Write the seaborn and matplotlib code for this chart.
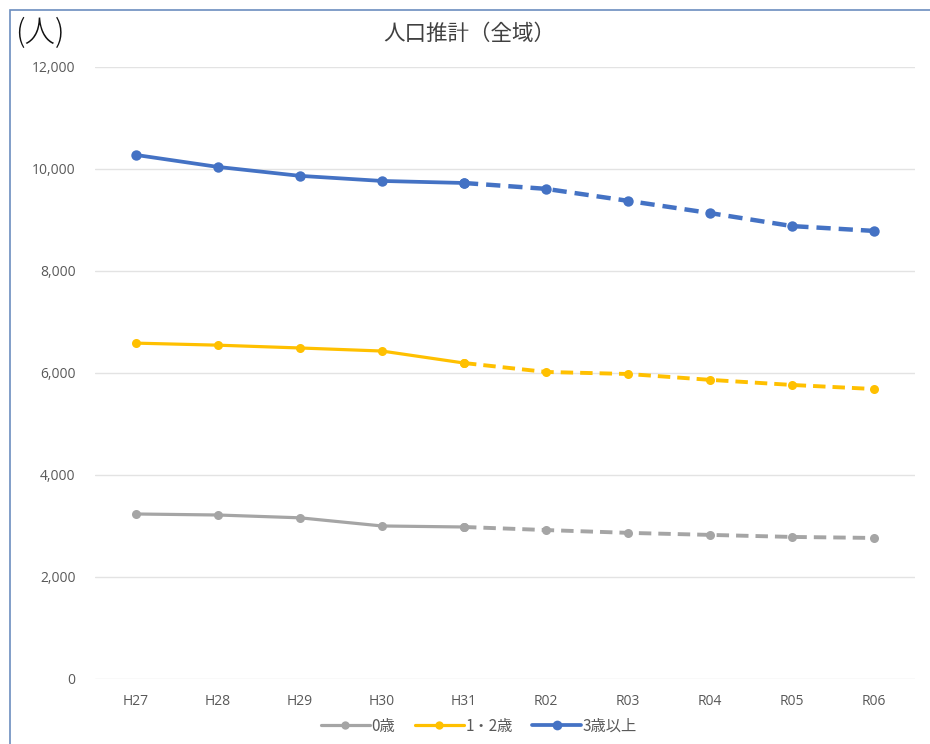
# 人口推計（全域）の折れ線グラフ
import numpy as np
import pandas as pd
import seaborn as sns
import matplotlib.pyplot as plt
from matplotlib.lines import Line2D
from matplotlib.patches import Rectangle

# Data
years = ['H27', 'H28', 'H29', 'H30', 'H31', 'R02', 'R03', 'R04', 'R05', 'R06']
age0 = [3235, 3215, 3160, 3000, 2980, 2920, 2865, 2825, 2785, 2765]
age12 = [6585, 6545, 6490, 6430, 6195, 6020, 5980, 5865, 5765, 5685]
age3plus = [10275, 10040, 9865, 9765, 9725, 9610, 9375, 9135, 8880, 8785]
series_names = ['0歳', '1・2歳', '3歳以上']
last_actual = 'H31'

sns.set_theme(style='white')
plt.rcParams['font.family'] = ['Noto Sans CJK JP', 'DejaVu Sans']

# Long-form table
pos = np.arange(len(years))
split = years.index(last_actual)
rows = []
for name, vals in zip(series_names, [age0, age12, age3plus]):
    for i, (y, v) in enumerate(zip(years, vals)):
        rows.append({'pos': pos[i], 'year': y, 'series': name, 'value': v})
data = pd.DataFrame(rows)

colors = {'0歳': '#A5A5A5', '1・2歳': '#FFC000', '3歳以上': '#4472C4'}
widths = {'0歳': 2.3, '1・2歳': 2.3, '3歳以上': 2.7}
msizes = {'0歳': 6.5, '1・2歳': 6.5, '3歳以上': 7.5}

fig = plt.figure(figsize=(9.3, 7.44), dpi=100)
ax = fig.add_axes([0.102, 0.0874, 0.882, 0.8226])

for name in series_names:
    d = data[data['series'] == name]
    solid = d[d['pos'] <= split]
    dashed = d[d['pos'] >= split]
    sns.lineplot(data=solid, x='pos', y='value', ax=ax, color=colors[name],
                 linewidth=widths[name], marker='o', markersize=msizes[name],
                 markeredgewidth=0, zorder=3)
    sns.lineplot(data=dashed, x='pos', y='value', ax=ax, color=colors[name],
                 linewidth=widths[name] + 0.5, linestyle=(0, (3.2, 1.8)), marker='o',
                 markersize=msizes[name], markeredgewidth=0, zorder=3)

ax.set_xlim(-0.5, len(years) - 0.5)
ax.set_ylim(0, 12000)
ax.set_xticks(pos)
ax.set_xticklabels(years)
ax.set_yticks(range(0, 12001, 2000))
ax.set_yticklabels([f'{v:,}' for v in range(0, 12001, 2000)])
ax.tick_params(axis='x', colors='#595959', labelsize=10, length=0, pad=11)
ax.tick_params(axis='y', colors='#595959', labelsize=10, length=0, pad=14)
for lab in ax.get_xticklabels() + ax.get_yticklabels():
    lab.set_family(['Open Sans', 'DejaVu Sans'])
ax.yaxis.grid(True, color='#E3E3E3', linewidth=1)
ax.xaxis.grid(False)
ax.set_xlabel('')
ax.set_ylabel('')
for s in ax.spines.values():
    s.set_visible(False)

# Title and unit label
fig.text(0.505, 0.955, '人口推計（全域）', ha='center', va='center',
         fontsize=15.5, color='#404040')
fig.text(0.043, 0.955, '(人)', ha='center', va='center', fontsize=22,
         color='#111111', fontweight='light')

# Legend
handles = [Line2D([0], [0], color=colors[n], linewidth=widths[n], marker='o',
                  markersize=msizes[n] - 0.5, markeredgewidth=0) for n in series_names]
fig.legend(handles, series_names, loc='center', bbox_to_anchor=(0.515, 0.024),
           ncol=3, frameon=False, fontsize=11, handlelength=3.2,
           handletextpad=0.1, columnspacing=1.3, labelcolor='#595959')

# Chart frame (left and top visible)
fig.patches.append(Rectangle((10 / 930, -0.1), 1.0, 1.1 - 10 / 744,
                             transform=fig.transFigure, fill=False,
                             edgecolor='#6C8EBF', linewidth=1.2))

fig.savefig('out.png', dpi=100)
